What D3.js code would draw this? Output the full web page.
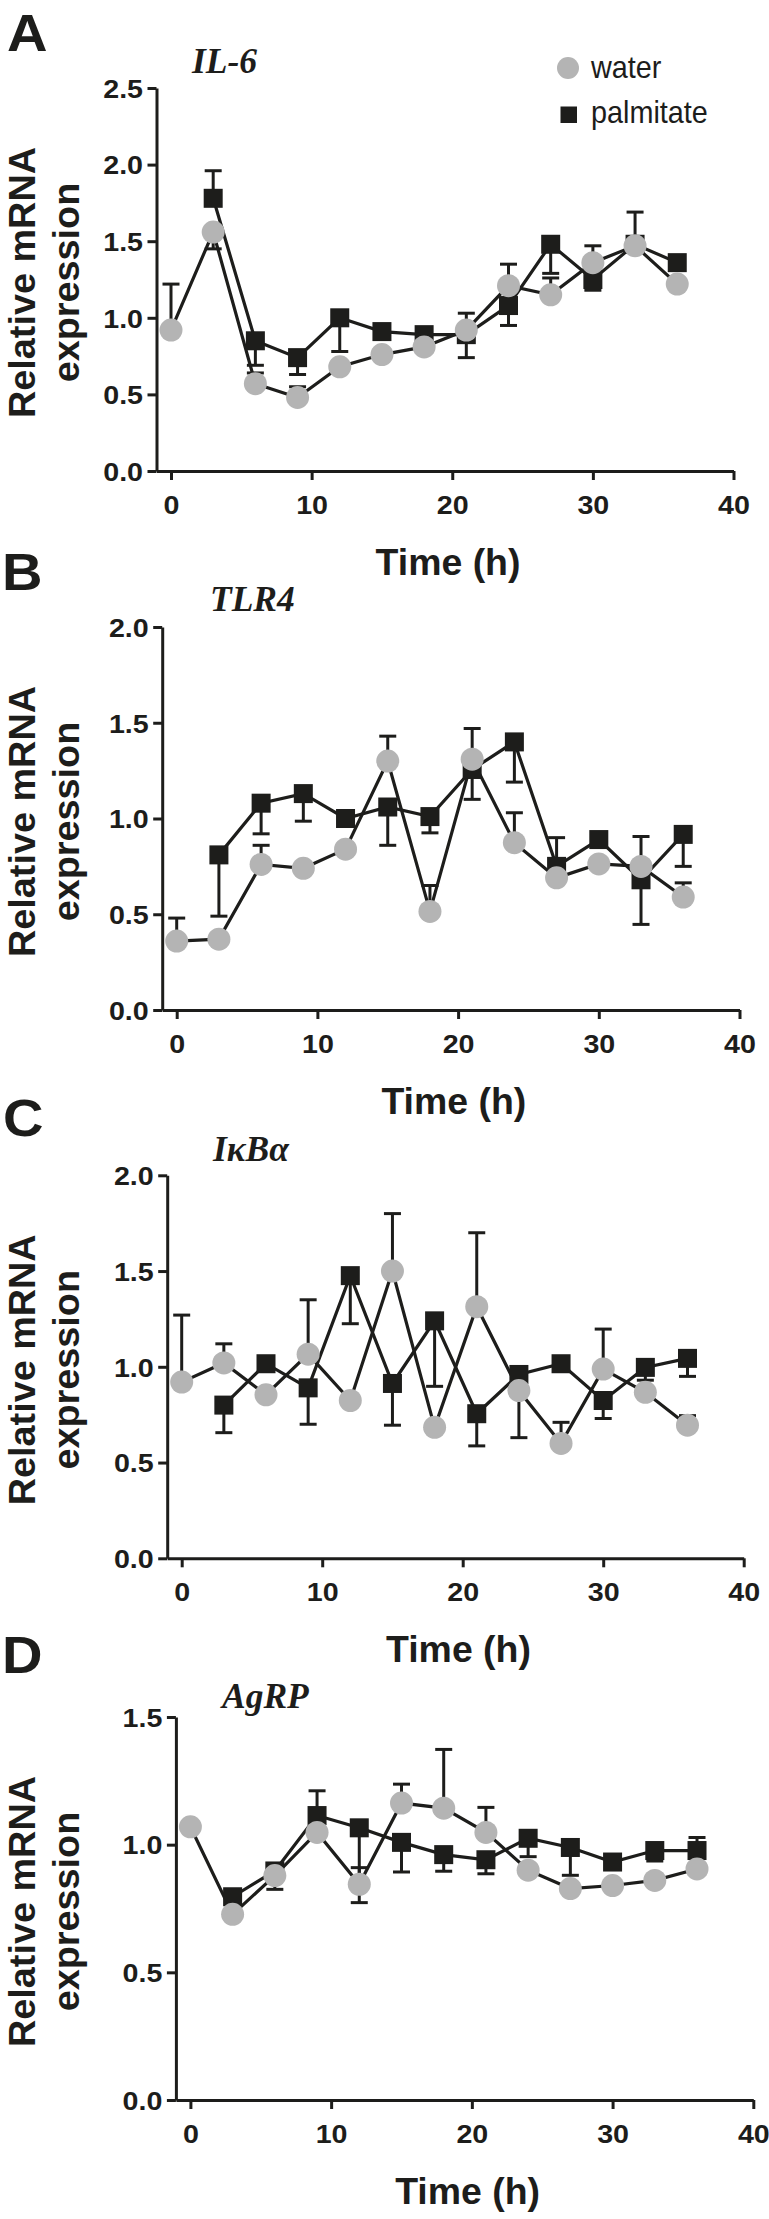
<!DOCTYPE html>
<html><head><meta charset="utf-8">
<script src="https://cdn.jsdelivr.net/npm/d3@7/dist/d3.min.js"></script>
<style>
html,body{margin:0;padding:0;background:#fff;}
svg{display:block;}
</style></head>
<body>
<svg id="chart" width="769" height="2219"></svg>
<script>
// ---- data ----
const hours = [0,3,6,9,12,15,18,21,24,27,30,33,36];
const xTicks = [0,10,20,30,40];
const seriesNames = ["water","palmitate"];

const il6Water    = [0.92,1.56,0.57,0.48,0.68,0.76,0.81,0.92,1.21,1.15,1.36,1.47,1.22];
const il6WaterErr = [1.22,1.45,0.64,0.55,null,null,null,1.03,1.35,1.26,1.47,1.69,null];
const il6Palm     = [null,1.78,0.85,0.74,1.00,0.91,0.89,0.89,1.08,1.48,1.25,1.48,1.36];
const il6PalmErr  = [null,1.96,0.69,0.63,0.78,null,null,0.74,0.95,1.29,1.18,null,null];
const il6Ticks    = [0,0.5,1.0,1.5,2.0,2.5];

const tlr4Water    = [0.36,0.37,0.76,0.74,0.84,1.30,0.515,1.31,0.874,0.69,0.763,0.75,0.59];
const tlr4WaterErr = [0.48,null,0.86,null,null,1.43,0.65,1.47,1.03,null,null,0.906,0.664];
const tlr4Palm     = [null,0.81,1.08,1.13,1.00,1.06,1.01,1.256,1.40,0.75,0.89,0.68,0.917];
const tlr4PalmErr  = [null,0.49,0.92,0.986,null,0.86,0.925,1.10,1.19,0.90,null,0.447,0.75];
const tlr4Ticks    = [0,0.5,1.0,1.5,2.0];

const ikbaWater    = [0.92,1.02,0.854,1.066,0.824,1.50,0.684,1.314,0.876,0.60,0.988,0.867,0.695];
const ikbaWaterErr = [1.27,1.12,null,1.35,null,1.80,null,1.70,null,0.71,1.197,null,0.745];
const ikbaPalm     = [null,0.80,1.016,0.89,1.476,0.913,1.24,0.755,0.96,1.016,0.824,0.997,1.044];
const ikbaPalmErr  = [null,0.656,null,0.70,1.225,0.695,0.898,0.587,0.63,null,0.73,0.93,0.95];
const ikbaTicks    = [0,0.5,1.0,1.5,2.0];

const agrpWater    = [1.07,0.727,0.879,1.048,0.845,1.163,1.143,1.048,0.90,0.828,0.84,0.86,0.905];
const agrpWaterErr = [null,null,null,null,0.91,1.237,1.373,1.146,null,null,null,null,null];
const agrpPalm     = [null,0.796,0.897,1.114,1.066,1.009,0.961,0.941,1.025,0.989,0.932,0.977,0.977];
const agrpPalmErr  = [null,null,0.825,1.211,0.773,0.893,0.896,0.886,0.953,0.88,null,0.936,1.028];
const agrpTicks    = [0,0.5,1.0,1.5];

const panelLetters = ["A","B","C","D"];
const geneNames = ["IL-6","TLR4","IκBα","AgRP"];

// ---- layout (positions only) ----
const panels = [
  {letter:panelLetters[0], gene:geneNames[0], water:il6Water, waterErr:il6WaterErr, palm:il6Palm, palmErr:il6PalmErr, ticks:il6Ticks,
   x0:171, x40:733.5, bottom:471, letterX:7, letterY:51, geneX:192, geneY:73, legend:true},
  {letter:panelLetters[1], gene:geneNames[1], water:tlr4Water, waterErr:tlr4WaterErr, palm:tlr4Palm, palmErr:tlr4PalmErr, ticks:tlr4Ticks,
   x0:176.7, x40:739.5, bottom:1010, letterX:2, letterY:590, geneX:210, geneY:611},
  {letter:panelLetters[2], gene:geneNames[2], water:ikbaWater, waterErr:ikbaWaterErr, palm:ikbaPalm, palmErr:ikbaPalmErr, ticks:ikbaTicks,
   x0:181.7, x40:743.7, bottom:1558.3, letterX:3, letterY:1136, geneX:213, geneY:1161},
  {letter:panelLetters[3], gene:geneNames[3], water:agrpWater, waterErr:agrpWaterErr, palm:agrpPalm, palmErr:agrpPalmErr, ticks:agrpTicks,
   x0:190.4, x40:753.3, bottom:2100, letterX:2, letterY:1673, geneX:222, geneY:1708}
];

const INK = "#1d1d1b";
const GRAY = "#b4b4b4";
const SANS = "'Liberation Sans', Arial, Helvetica, sans-serif";
const SERIF = "'Liberation Serif', 'Times New Roman', serif";
const PH = 383;
const WIDE = 1.08;   // glyph width factor of the tick labels
const svg = d3.select("#chart");

panels.forEach(p => {
  const g = svg.append("g");
  const axisGap = 14.5;
  const pxPerUnit = (p.x40 - p.x0) / 40;
  const xMin = -axisGap / pxPerUnit;
  const x = d3.scaleLinear().domain([xMin, 40]).range([p.x0 - axisGap, p.x40]);
  const ymax = p.ticks[p.ticks.length - 1];
  const y = d3.scaleLinear().domain([0, ymax]).range([p.bottom, p.bottom - PH]);
  const axisX = x(xMin);

  // panel letter
  g.append("text").attr("transform", `translate(${p.letterX},${p.letterY}) scale(1.1,1)`)
    .attr("font-family", SANS).attr("font-weight", "bold").attr("font-size", 51)
    .attr("fill", INK).text(p.letter);
  // gene title
  g.append("text").attr("x", p.geneX).attr("y", p.geneY)
    .attr("font-family", SERIF).attr("font-weight", "bold").attr("font-style", "italic")
    .attr("font-size", 35.5).attr("fill", INK).text(p.gene);

  // axes
  const xAxis = d3.axisBottom(x).tickValues(xTicks).tickSize(9).tickSizeOuter(0).tickFormat(d3.format("d"));
  const gx = g.append("g").attr("transform", `translate(0,${p.bottom})`).call(xAxis);
  const yAxis = d3.axisLeft(y).tickValues(p.ticks).tickSize(9).tickSizeOuter(0).tickFormat(d3.format(".1f"));
  const gy = g.append("g").attr("transform", `translate(${axisX},0)`).call(yAxis);
  [gx, gy].forEach(a => {
    a.select(".domain").attr("stroke", INK).attr("stroke-width", 3);
    a.selectAll(".tick line").attr("stroke", INK).attr("stroke-width", 3);
    a.selectAll(".tick text").attr("fill", INK).attr("font-family", SANS)
      .attr("font-weight", "bold").attr("font-size", 26.5);
  });
  gx.selectAll(".tick text").attr("x", 0).attr("y", 0).attr("dy", null)
    .attr("transform", `translate(0,43) scale(${WIDE},1)`);
  gy.selectAll(".tick text").attr("x", 0).attr("dy", "0.35em")
    .attr("transform", `translate(-13.5,0) scale(${WIDE},1)`);

  // axis titles
  g.append("text").attr("transform", `translate(${(axisX + p.x40) / 2 + 3},${p.bottom + 104}) scale(1.04,1)`)
    .attr("text-anchor", "middle").attr("font-family", SANS).attr("font-weight", "bold")
    .attr("font-size", 36).attr("fill", INK).text("Time (h)");
  const yc = p.bottom - PH / 2 + 3;
  const yl = g.append("text").attr("transform", `translate(34.5,${yc}) rotate(-90) scale(1.05,1)`)
    .attr("text-anchor", "middle").attr("font-family", SANS).attr("font-weight", "bold")
    .attr("font-size", 36).attr("fill", INK);
  yl.append("tspan").attr("x", 0).attr("y", 0).text("Relative mRNA");
  yl.append("tspan").attr("x", 0).attr("y", 44.5).text("expression");

  const mk = (vals, errs) => hours.map((h, i) => ({h, v: vals[i], e: errs[i]})).filter(d => d.v != null);
  const palm = mk(p.palm, p.palmErr);
  const water = mk(p.water, p.waterErr);
  const line = d3.line().x(d => x(d.h)).y(d => y(d.v));

  // error bars
  const drawErr = (data) => {
    const eg = g.append("g").attr("stroke", INK).attr("stroke-width", 3);
    data.filter(d => d.e != null).forEach(d => {
      eg.append("line").attr("x1", x(d.h)).attr("x2", x(d.h)).attr("y1", y(d.v)).attr("y2", y(d.e));
      eg.append("line").attr("x1", x(d.h) - 8.5).attr("x2", x(d.h) + 8.5).attr("y1", y(d.e)).attr("y2", y(d.e));
    });
  };
  drawErr(palm);
  drawErr(water);

  g.append("path").datum(palm).attr("d", line).attr("fill", "none").attr("stroke", INK).attr("stroke-width", 3.2);
  g.append("path").datum(water).attr("d", line).attr("fill", "none").attr("stroke", INK).attr("stroke-width", 3.2);

  g.append("g").selectAll("rect").data(palm).join("rect")
    .attr("x", d => x(d.h) - 9.5).attr("y", d => y(d.v) - 9.5)
    .attr("width", 19).attr("height", 19).attr("fill", INK);
  g.append("g").selectAll("circle").data(water).join("circle")
    .attr("cx", d => x(d.h)).attr("cy", d => y(d.v)).attr("r", 11.5).attr("fill", GRAY);

  if (p.legend) {
    const lg = g.append("g");
    lg.append("circle").attr("cx", 568).attr("cy", 68).attr("r", 11).attr("fill", GRAY);
    lg.append("text").attr("transform", "translate(591,77.5) scale(0.9,1)").attr("font-family", SANS)
      .attr("font-size", 32).attr("fill", INK).text(seriesNames[0]);
    lg.append("rect").attr("x", 560.5).attr("y", 106.5).attr("width", 16.5).attr("height", 16.5).attr("fill", INK);
    lg.append("text").attr("transform", "translate(591,123) scale(0.9,1)").attr("font-family", SANS)
      .attr("font-size", 32).attr("fill", INK).text(seriesNames[1]);
  }
});
</script>
</body></html>
